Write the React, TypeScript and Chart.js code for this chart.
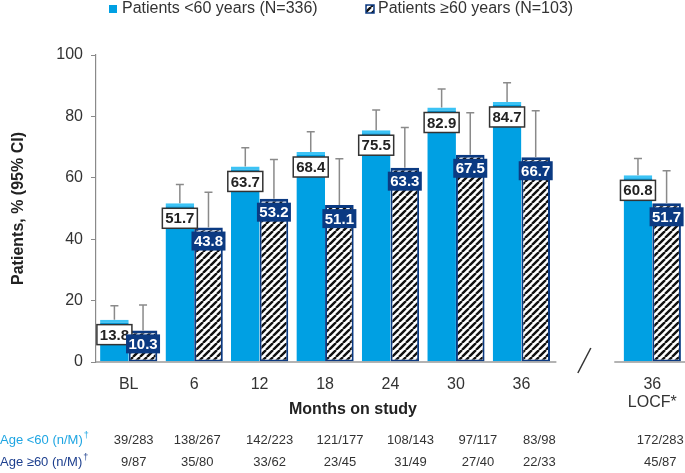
import React, { useEffect, useRef } from "react";
import { Chart, registerables } from "chart.js";

Chart.register(...registerables);

const FONT = "'Liberation Sans', Arial, sans-serif";

const categories: (string | string[])[] = ["BL", "6", "12", "18", "24", "30", "36", "", ["36", "LOCF*"]];
const under60 = [13.8, 51.7, 63.7, 68.4, 75.5, 82.9, 84.7, null, 60.8];
const over60 = [10.3, 43.8, 53.2, 51.1, 63.3, 67.5, 66.7, null, 51.7];
const under60Upper = [18.3, 57.8, 69.8, 75.0, 82.1, 88.9, 91.0, null, 66.3];
const over60Upper = [18.6, 55.3, 66.0, 66.2, 76.4, 81.2, 81.8, null, 62.3];
const under60N = ["39/283", "138/267", "142/223", "121/177", "108/143", "97/117", "83/98", "", "172/283"];
const over60N = ["9/87", "35/80", "33/62", "23/45", "31/49", "27/40", "22/33", "", "45/87"];
const legendLabels = ["Patients <60 years (N=336)", "Patients \u226560 years (N=103)"];
const rowLabels = ["Age <60 (n/M)", "Age \u226560 (n/M)"];
const yTitle = "Patients, % (95% CI)";
const xTitle = "Months on study";

const BLUE = "#00a0e3";
const BLUE_TOP = "#3cc3f5";
const NAVY = "#0b3a82";
const ROW_BLUE = "#1ea5e2";
const ROW_NAVY = "#1d3f8e";
const TEXT = "#333333";
const GRAY = "#8a8a8a";

// table column offsets from category centres (layout only)
const tableOffsets = [5, 3, 10, 15, 20, 22, 18, 0, 8];

function makeHatch(): CanvasPattern | string {
  const s = 7;
  const c = document.createElement("canvas");
  c.width = s;
  c.height = s;
  const g = c.getContext("2d");
  if (!g) return "#fff";
  g.fillStyle = "#ffffff";
  g.fillRect(0, 0, s, s);
  g.strokeStyle = "#111111";
  g.lineWidth = 2.4;
  g.beginPath();
  for (const k of [-s, 0, s]) {
    g.moveTo(k, s);
    g.lineTo(k + s, 0);
  }
  g.stroke();
  const p = g.createPattern(c, "repeat");
  return p || "#fff";
}

export default function App() {
  const ref = useRef<HTMLCanvasElement | null>(null);

  useEffect(() => {
    document.body.style.margin = "0";
    const canvas = ref.current;
    if (!canvas) return;
    const hatch = makeHatch();

    const custom = {
      id: "custom",
      afterDatasetsDraw(chart: any) {
        const ctx = chart.ctx as CanvasRenderingContext2D;
        const xs = chart.scales.x;
        const ys = chart.scales.y;
        const area = chart.chartArea;
        const base = ys.getPixelForValue(0);
        const m0 = chart.getDatasetMeta(0);
        const m1 = chart.getDatasetMeta(1);
        ctx.save();

        // baseline (broken)
        ctx.strokeStyle = "#9a9a9a";
        ctx.lineWidth = 1.5;
        ctx.beginPath();
        ctx.moveTo(area.left, base);
        ctx.lineTo(xs.getPixelForValue(6) + 35, base);
        ctx.moveTo(xs.getPixelForValue(8) - 38, base);
        ctx.lineTo(area.right, base);
        ctx.stroke();

        // break slash
        const bx = xs.getPixelForValue(7);
        ctx.strokeStyle = "#333";
        ctx.lineWidth = 1.5;
        ctx.beginPath();
        ctx.moveTo(bx - 9, base + 11);
        ctx.lineTo(bx + 4, base - 14);
        ctx.stroke();

        // error bars
        const errs: [any, (number | null)[]][] = [
          [m0, under60Upper],
          [m1, over60Upper],
        ];
        ctx.strokeStyle = GRAY;
        ctx.lineWidth = 1.5;
        for (const [meta, ups] of errs) {
          meta.data.forEach((bar: any, i: number) => {
            const u = ups[i];
            if (u == null) return;
            const yt = ys.getPixelForValue(u);
            ctx.beginPath();
            ctx.moveTo(bar.x, bar.y);
            ctx.lineTo(bar.x, yt);
            ctx.moveTo(bar.x - 4, yt);
            ctx.lineTo(bar.x + 4, yt);
            ctx.stroke();
          });
        }

        // value labels
        ctx.textAlign = "center";
        ctx.textBaseline = "middle";
        ctx.font = `bold 15px ${FONT}`;
        m0.data.forEach((bar: any, i: number) => {
          const v = under60[i];
          if (v == null) return;
          const w = 35, h = 20;
          const top = Math.min(bar.y + 5, base - h - 12);
          ctx.fillStyle = "#fff";
          ctx.fillRect(bar.x - w / 2, top, w, h);
          ctx.strokeStyle = "#333";
          ctx.lineWidth = 1.5;
          ctx.strokeRect(bar.x - w / 2, top, w, h);
          ctx.fillStyle = "#222";
          ctx.fillText(v.toFixed(1), bar.x, top + h / 2 + 1);
        });
        m1.data.forEach((bar: any, i: number) => {
          const v = over60[i];
          if (v == null) return;
          const w = 34, h = 19;
          const top = Math.min(bar.y + 4, base - h - 2);
          ctx.fillStyle = NAVY;
          ctx.fillRect(bar.x - w / 2, top, w, h);
          ctx.fillStyle = "#fff";
          ctx.fillText(v.toFixed(1), bar.x, top + h / 2 + 1);
        });

        // x title
        ctx.fillStyle = "#222";
        ctx.font = `bold 16px ${FONT}`;
        ctx.fillText(xTitle, 353, 410);

        // table
        ctx.font = `13px ${FONT}`;
        const rows: [string[], number, string][] = [
          [under60N, 440, ROW_BLUE],
          [over60N, 462, ROW_NAVY],
        ];
        rows.forEach(([vals, yy, col], r) => {
          ctx.textAlign = "left";
          ctx.fillStyle = col;
          ctx.fillText(rowLabels[r], 0, yy);
          const lw = ctx.measureText(rowLabels[r]).width;
          ctx.font = `9px ${FONT}`;
          ctx.fillText("\u2020", lw + 1, yy - 4);
          ctx.font = `13px ${FONT}`;
          ctx.textAlign = "center";
          ctx.fillStyle = TEXT;
          vals.forEach((t, i) => {
            if (!t) return;
            ctx.fillText(t, xs.getPixelForValue(i) + tableOffsets[i], yy);
          });
        });

        // legend
        ctx.font = `16px ${FONT}`;
        ctx.textAlign = "left";
        ctx.fillStyle = BLUE;
        ctx.fillRect(109, 5, 8, 8);
        ctx.fillStyle = TEXT;
        ctx.fillText(legendLabels[0], 122, 9);
        ctx.fillStyle = hatch as any;
        ctx.fillRect(366, 5, 8, 8);
        ctx.strokeStyle = NAVY;
        ctx.lineWidth = 1.5;
        ctx.strokeRect(366, 5, 8, 8);
        ctx.fillStyle = TEXT;
        ctx.fillText(legendLabels[1], 378, 9);

        ctx.restore();
      },
    };

    const chart = new Chart(canvas, {
      type: "bar",
      data: {
        labels: categories as any,
        datasets: [
          {
            label: legendLabels[0],
            data: under60 as any,
            backgroundColor: BLUE,
            borderColor: BLUE_TOP,
            borderWidth: { top: 3, left: 0, right: 0, bottom: 0 } as any,
            borderSkipped: false,
            categoryPercentage: 0.875,
            barPercentage: 1.0,
          },
          {
            label: legendLabels[1],
            data: over60 as any,
            backgroundColor: hatch as any,
            borderColor: NAVY,
            borderWidth: { top: 3, left: 2, right: 2, bottom: 2 } as any,
            borderSkipped: false,
            categoryPercentage: 0.875,
            barPercentage: 1.0,
          },
        ],
      },
      options: {
        animation: false,
        responsive: false,
        devicePixelRatio: 1,
        layout: { padding: { top: 55, right: 0, bottom: 0, left: 0 } },
        plugins: { legend: { display: false }, tooltip: { enabled: false } },
        scales: {
          x: {
            grid: { display: false },
            border: { display: false },
            ticks: {
              font: { size: 16, family: FONT, lineHeight: 1.15 },
              color: TEXT,
              padding: 5,
              maxRotation: 0,
              autoSkip: false,
            },
            afterFit: (s: any) => {
              s.height = 111;
            },
          },
          y: {
            min: 0,
            max: 100,
            grid: {
              drawOnChartArea: false,
              drawTicks: true,
              tickLength: 5,
              color: GRAY,
            },
            border: { display: true, color: GRAY, width: 1.2 },
            ticks: {
              stepSize: 20,
              font: { size: 16, family: FONT },
              color: TEXT,
              padding: 8,
            },
            title: {
              display: true,
              text: yTitle,
              font: { size: 16, weight: "bold", family: FONT },
              color: "#222",
              padding: { top: 9, bottom: 0 },
            },
            afterFit: (s: any) => {
              s.width = 96;
            },
          },
        },
      },
      plugins: [custom],
    } as any);

    return () => chart.destroy();
  }, []);

  return (
    <div style={{ width: 685, height: 473 }}>
      <canvas ref={ref} width={685} height={473} style={{ display: "block" }} />
    </div>
  );
}
